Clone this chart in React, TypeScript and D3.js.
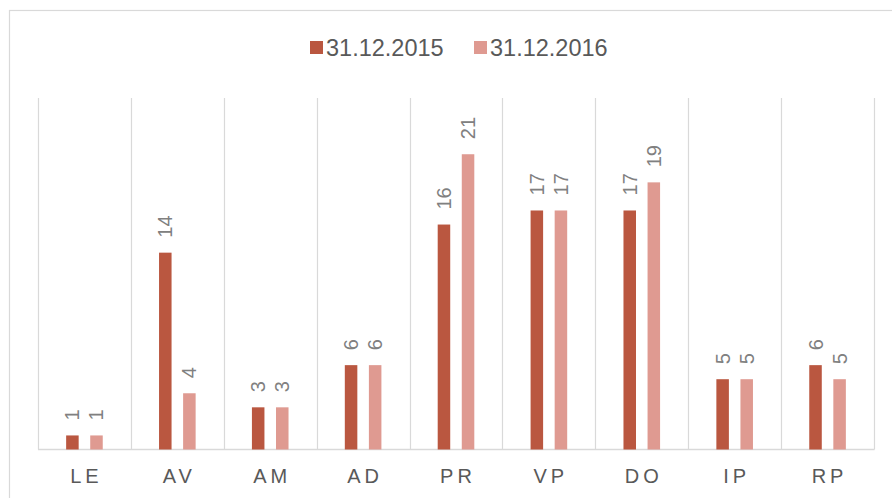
import React from "react";
import * as d3 from "d3";

const categories = ["LE", "AV", "AM", "AD", "PR", "VP", "DO", "IP", "RP"];
const seriesNames = ["31.12.2015", "31.12.2016"];
const values2015 = [1, 14, 3, 6, 16, 17, 17, 5, 6];
const values2016 = [1, 4, 3, 6, 21, 17, 19, 5, 5];
const seriesColors = ["#BA5740", "#DF9A91"];

const W = 892;
const H = 498;
const FONT = "'Liberation Sans', Arial, sans-serif";

export default function App() {
  const x = d3.scaleBand<string>().domain(categories).range([38, 874]).padding(0);
  const x1 = d3.scaleBand<string>().domain(seriesNames).range([-18.3, 18.3]).paddingInner(0.48);
  const y = d3.scaleLinear().domain([0, 25]).range([449.5, 98]);
  const seriesValues = [values2015, values2016];

  const gridXs = d3.range(categories.length + 1).map((i) => 38 + i * x.step());

  return (
    <svg
      width={W}
      height={H}
      style={{ position: "absolute", left: 0, top: 0, background: "#fff" }}
      fontFamily={FONT}
    >
      <rect x={9.5} y={10.5} width={W + 20} height={H + 20} fill="#fff" stroke="#D9D9D9" strokeWidth={1.2} />
      {gridXs.map((gx, i) => (
        <line key={i} x1={Math.round(gx) + 0.5} x2={Math.round(gx) + 0.5} y1={98} y2={449.5} stroke="#D9D9D9" strokeWidth={1.2} />
      ))}
      <line x1={38} x2={874.5} y1={449.5} y2={449.5} stroke="#D9D9D9" strokeWidth={1.4} />
      {categories.map((c, i) => {
        const cx = (x(c) as number) + x.bandwidth() / 2;
        return (
          <g key={c}>
            {seriesNames.map((s, si) => {
              const v = seriesValues[si][i];
              const bx = cx + (x1(s) as number);
              const bw = x1.bandwidth();
              return (
                <g key={s}>
                  <rect x={bx} y={y(v)} width={bw} height={y(0) - y(v)} fill={seriesColors[si]} />
                  <text
                    transform={`translate(${bx + bw / 2},${y(v) - 15}) rotate(-90)`}
                    textAnchor="start"
                    dominantBaseline="central"
                    fontSize={20}
                    fill="#808080"
                  >
                    {v}
                  </text>
                </g>
              );
            })}
            <text
              x={cx + 2}
              y={482.5}
              textAnchor="middle"
              fontSize={20}
              letterSpacing={4}
              fill="#595959"
            >
              {c}
            </text>
          </g>
        );
      })}
      <g>
        <rect x={310} y={41} width={13} height={13} fill={seriesColors[0]} />
        <text x={326} y={55.5} fontSize={23.5} fill="#595959">{seriesNames[0]}</text>
        <rect x={474} y={41} width={13} height={13} fill={seriesColors[1]} />
        <text x={490} y={55.5} fontSize={23.5} fill="#595959">{seriesNames[1]}</text>
      </g>
    </svg>
  );
}
